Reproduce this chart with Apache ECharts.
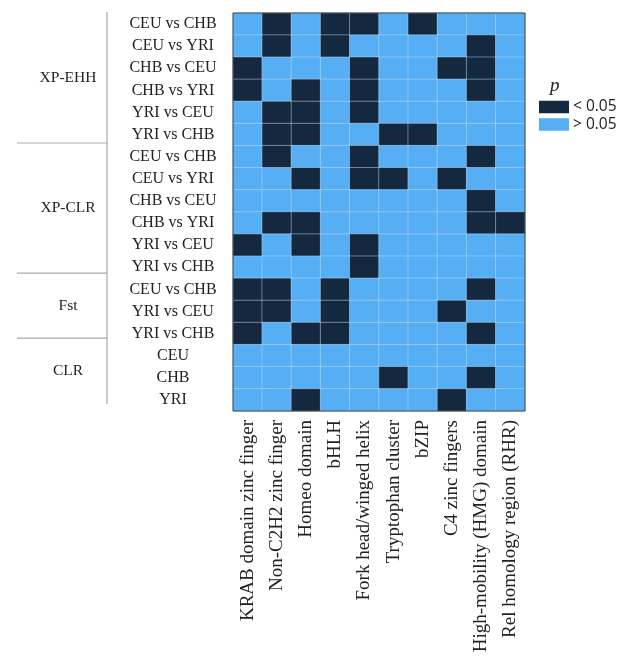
<!DOCTYPE html>
<html><head><meta charset="utf-8">
<script src="https://cdn.jsdelivr.net/npm/echarts@6/dist/echarts.min.js"></script>
<style>html,body{margin:0;padding:0;background:#fff}#c{width:626px;height:661px}</style>
</head><body><div id="c"></div>
<script>
var domains = ['KRAB domain zinc finger','Non-C2H2 zinc finger','Homeo domain','bHLH','Fork head/winged helix','Tryptophan cluster','bZIP','C4 zinc fingers','High-mobility (HMG) domain','Rel homology region (RHR)'];
var comparisons = ['CEU vs CHB','CEU vs YRI','CHB vs CEU','CHB vs YRI','YRI vs CEU','YRI vs CHB',
  'CEU vs CHB','CEU vs YRI','CHB vs CEU','CHB vs YRI','YRI vs CEU','YRI vs CHB',
  'CEU vs CHB','YRI vs CEU','YRI vs CHB','CEU','CHB','YRI'];
var methods = ['XP-EHH','XP-CLR','Fst','CLR'];
var methodSizes = [6,6,3,3];
// 1 = p < 0.05, 0 = p > 0.05
var significance = [
  [0,1,0,1,1,0,1,0,0,0],
  [0,1,0,1,0,0,0,0,1,0],
  [1,0,0,0,1,0,0,1,1,0],
  [1,0,1,0,1,0,0,0,1,0],
  [0,1,1,0,1,0,0,0,0,0],
  [0,1,1,0,0,1,1,0,0,0],
  [0,1,0,0,1,0,0,0,1,0],
  [0,0,1,0,1,1,0,1,0,0],
  [0,0,0,0,0,0,0,0,1,0],
  [0,1,1,0,0,0,0,0,1,1],
  [1,0,1,0,1,0,0,0,0,0],
  [0,0,0,0,1,0,0,0,0,0],
  [1,1,0,1,0,0,0,0,1,0],
  [1,1,0,1,0,0,0,1,0,0],
  [1,0,1,1,0,0,0,0,1,0],
  [0,0,0,0,0,0,0,0,0,0],
  [0,0,0,0,0,1,0,0,1,0],
  [0,0,1,0,0,0,0,1,0,0]
];
var legendLabels = ['< 0.05','> 0.05'];

var yCats = comparisons.map(function(c,i){return i+'';});
var data = [];
significance.forEach(function(row,i){row.forEach(function(v,j){data.push([j,i,v]);});});

var FONT = 'Liberation Serif';
var chart = echarts.init(document.getElementById('c'));
var option = {
  animation:false,
  textStyle:{fontFamily:FONT},
  title:{text:'p',left:550,top:76,padding:0,textStyle:{fontFamily:FONT,fontStyle:'italic',fontWeight:'normal',fontSize:19,color:'#222'}},
  grid:{left:233,top:13,width:292,height:398,show:true,borderColor:'#444',borderWidth:1,backgroundColor:'transparent',z:10},
  xAxis:{type:'category',data:domains,position:'bottom',
    axisLine:{show:false},axisTick:{show:false},splitLine:{show:false},
    axisLabel:{rotate:90,interval:0,fontSize:19,color:'#222',margin:9,fontFamily:FONT}},
  yAxis:{type:'category',data:yCats,inverse:true,
    axisLine:{show:false},axisTick:{show:false},splitLine:{show:false},
    axisLabel:{interval:0,fontSize:16,color:'#222',margin:60,align:'center',fontFamily:FONT,
      formatter:function(v){return comparisons[+v];}}},
  visualMap:{type:'piecewise',orient:'vertical',left:539,top:99,itemWidth:30,itemHeight:12.5,itemGap:1.5,
    padding:0,align:'left',itemSymbol:'rect',showLabel:true,
    textStyle:{fontFamily:'Open Sans',fontSize:15.5,color:'#222',lineHeight:14},textGap:4,
    pieces:[{value:1,label:legendLabels[0],color:'#14283f'},{value:0,label:legendLabels[1],color:'#56aef5'}],
    dimension:2,seriesIndex:0,selectedMode:false},
  series:[{type:'heatmap',data:data,
    itemStyle:{borderColor:'rgba(200,225,245,0.45)',borderWidth:1},
    emphasis:{disabled:true}}]
};
chart.setOption(option);

// group annotations computed from the category axis
var lineX = 107, lineLeft = 17, groupX = 68, squeeze = 0.98;
var g = [];
var topPx = chart.convertToPixel({gridIndex:0},[0,0])[1];
var step = chart.convertToPixel({gridIndex:0},[0,1])[1]-topPx;
var start = 0;
var y0 = topPx - step/2;
g.push({type:'line',shape:{x1:lineX,y1:y0-1,x2:lineX,y2:y0+step*comparisons.length*squeeze+1},style:{stroke:'#aaa',lineWidth:1.2}});
methods.forEach(function(m,k){
  var end = start + methodSizes[k];
  var yc = y0 + step*squeeze*(start+end)/2;
  g.push({type:'text',x:groupX,y:yc,style:{text:m,fontFamily:FONT,fontSize:15.5,fill:'#222',align:'center',verticalAlign:'middle'}});
  if (k < methods.length-1) {
    var yb = y0 + step*end*squeeze;
    g.push({type:'line',shape:{x1:lineLeft,y1:yb,x2:lineX,y2:yb},style:{stroke:'#aaa',lineWidth:1.2}});
  }
  start = end;
});
chart.setOption({graphic:g});
</script></body></html>
